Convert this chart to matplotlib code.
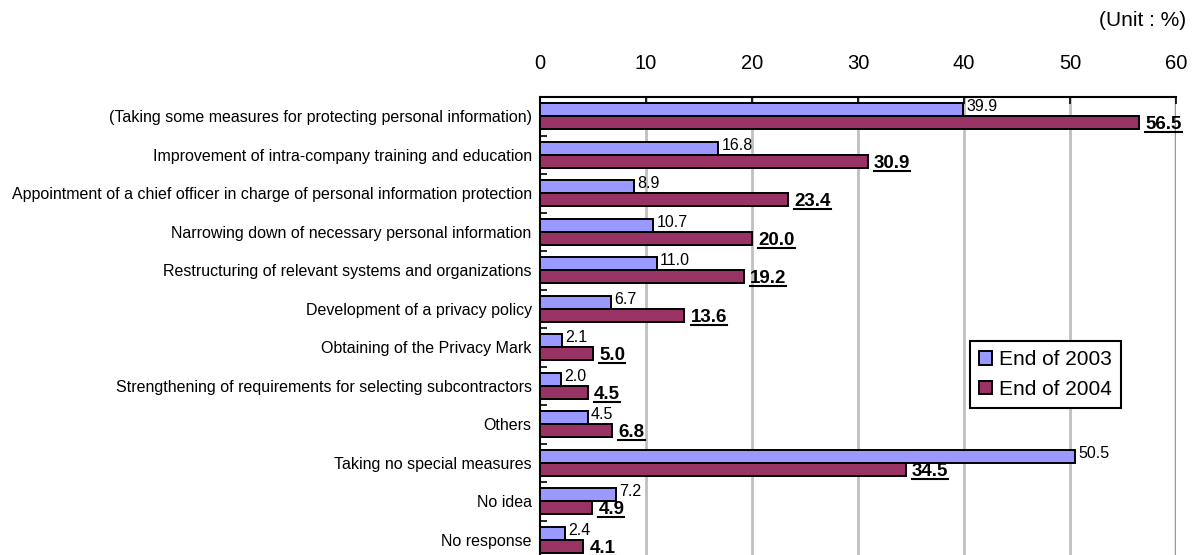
import numpy as np
import matplotlib.pyplot as plt
from matplotlib.lines import Line2D

plt.rcParams['font.family'] = ['Liberation Sans', 'DejaVu Sans']

categories = [
    '(Taking some measures for protecting personal information)',
    'Improvement of intra-company training and education',
    'Appointment of a chief officer in charge of personal information protection',
    'Narrowing down of necessary personal information',
    'Restructuring of relevant systems and organizations',
    'Development of a privacy policy',
    'Obtaining of the Privacy Mark',
    'Strengthening of requirements for selecting subcontractors',
    'Others',
    'Taking no special measures',
    'No idea',
    'No response',
]
end_2003 = [39.9, 16.8, 8.9, 10.7, 11.0, 6.7, 2.1, 2.0, 4.5, 50.5, 7.2, 2.4]
end_2004 = [56.5, 30.9, 23.4, 20.0, 19.2, 13.6, 5.0, 4.5, 6.8, 34.5, 4.9, 4.1]
xticks = [0, 10, 20, 30, 40, 50, 60]

fig = plt.figure(figsize=(11.94, 5.55), dpi=100)
ax = fig.add_axes([540 / 1194, -4 / 555, 636 / 1194, 462 / 555])

y = np.arange(len(categories))
h = 0.34
ax.barh(y - h / 2, end_2003, height=h, color='#9999FF', edgecolor='black', linewidth=1.4, zorder=3, label='End of 2003')
ax.barh(y + h / 2, end_2004, height=h, color='#993366', edgecolor='black', linewidth=1.4, zorder=3, label='End of 2004')

ax.set_xlim(0, 60)
ax.set_ylim(len(categories) - 0.5, -0.5)
ax.xaxis.tick_top()
ax.set_xticks(xticks)
ax.tick_params(axis='x', direction='in', length=5, width=1.2, labelsize=14.5, pad=17)
ax.set_yticks(y)
ax.set_yticklabels(categories, fontsize=11.5)
ax.tick_params(axis='y', length=0, pad=6)
ax.set_yticks(np.arange(len(categories) + 1) - 0.5, minor=True)
ax.tick_params(axis='y', which='minor', direction='in', length=5, width=1.2)
for xv in xticks[1:-1]:
    ax.axvline(xv, color='#C0C0C0', linewidth=2, zorder=0)
ax.axvline(xticks[-1], color='#999999', linewidth=2.5, zorder=0)
for s in ['right', 'bottom']:
    ax.spines[s].set_visible(False)
for s in ['top', 'left']:
    ax.spines[s].set_linewidth(1.5)

texts = []
for i in range(len(categories)):
    ax.text(end_2003[i] + 0.3, y[i] - h / 2 - 0.08, f'{end_2003[i]:.1f}', fontsize=11.5, va='center', ha='left', zorder=4)
    t = ax.text(end_2004[i] + 0.6, y[i] + h / 2 + 0.05, f'{end_2004[i]:.1f}', fontsize=13.5, fontweight='bold', va='center', ha='left', zorder=4)
    texts.append(t)

leg = ax.legend(loc='upper left', bbox_to_anchor=(0.676, 0.472), borderaxespad=0, fontsize=15, frameon=True, fancybox=False,
                edgecolor='black', handlelength=0.6, handleheight=0.6, handletextpad=0.35, borderpad=0.45, labelspacing=0.5,
                framealpha=1)
leg.get_frame().set_linewidth(1.5)

fig.text(1186 / 1194, 1 - 20 / 555, '(Unit : %)', fontsize=15, ha='right', va='center')

# underline the 2004 values
fig.canvas.draw()
r = fig.canvas.get_renderer()
inv = fig.transFigure.inverted()
for t in texts:
    bb = t.get_window_extent(r)
    (x0, y0), (x1, _) = inv.transform([(bb.x0, bb.y0), (bb.x1, bb.y1)])
    fig.add_artist(Line2D([x0, x1], [y0 + 0.002, y0 + 0.002], transform=fig.transFigure, color='black', linewidth=1.5))

fig.savefig('out.png', dpi=100)
